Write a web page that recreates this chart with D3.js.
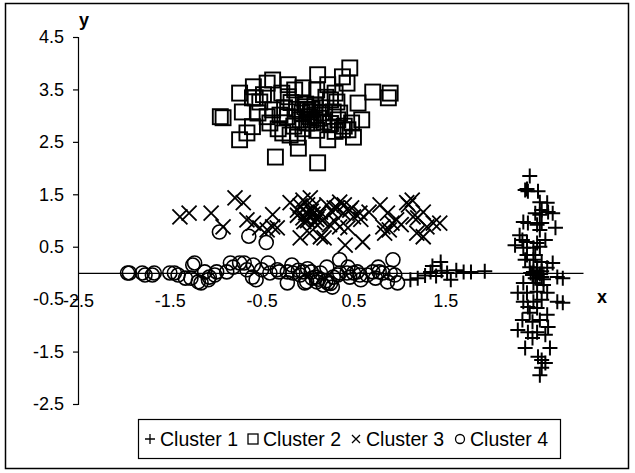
<!DOCTYPE html>
<html><head><meta charset="utf-8">
<script src="https://cdn.jsdelivr.net/npm/d3@7"></script>
<style>body{margin:0;background:#fff}svg{display:block}text{font-family:"Liberation Sans",Arial,sans-serif}</style>
</head><body><svg id="c" width="635" height="473"></svg>
<script>
const xTicks = [-2.5, -1.5, -0.5, 0.5, 1.5];
const yTicks = [4.5, 3.5, 2.5, 1.5, 0.5, -0.5, -1.5, -2.5];
const seriesNames = ["Cluster 1", "Cluster 2", "Cluster 3", "Cluster 4"];

const cluster1 = [
[1.12,-0.13],[1.20,-0.10],[1.28,-0.05],[1.34,0.02],[1.36,0.13],[1.40,-0.06],[1.45,0.21],[1.46,0.04],[1.52,0.0],[1.56,-0.13],[1.62,0.05],[1.70,0.02],[1.78,0.02],[1.93,0.03],
[2.42,1.85],[2.37,1.58],[2.40,1.56],[2.39,1.60],[2.51,1.56],[2.53,1.35],[2.61,1.34],[2.48,1.14],[2.55,1.20],[2.62,1.16],[2.67,1.14],[2.53,1.11],
[2.35,0.97],[2.40,0.95],[2.50,0.92],[2.55,0.95],[2.70,0.86],[2.53,0.82],[2.31,0.72],[2.34,0.63],[2.26,0.53],[2.39,0.59],[2.50,0.57],[2.59,0.63],
[2.35,0.48],[2.46,0.48],[2.53,0.50],[2.39,0.34],[2.48,0.34],[2.37,0.25],[2.46,0.25],[2.55,0.21],[2.67,0.19],[2.42,0.11],[2.50,0.10],[2.61,0.10],
[2.45,-0.04],[2.50,-0.04],[2.55,-0.08],[2.72,-0.08],[2.46,0.02],[2.50,0.05],[2.53,-0.02],[2.48,-0.10],[2.55,0.03],[2.43,0.0],[2.57,-0.12],[2.78,-0.10],
[2.35,-0.19],[2.46,-0.19],[2.57,-0.23],[2.29,-0.38],[2.39,-0.38],[2.50,-0.36],[2.61,-0.38],[2.35,-0.55],[2.46,-0.55],[2.55,-0.51],[2.72,-0.55],[2.78,-0.57],
[2.40,-0.65],[2.50,-0.67],[2.42,-0.76],[2.61,-0.80],[2.34,-0.90],[2.45,-0.93],[2.53,-0.90],[2.62,-1.03],[2.29,-1.09],[2.40,-1.13],[2.50,-1.13],[2.45,-1.24],
[2.59,-1.18],[2.37,-1.43],[2.64,-1.43],[2.51,-1.60],[2.55,-1.66],[2.59,-1.72],[2.55,-1.81],[2.53,-1.95]
];

const cluster2 = [
[-0.95,2.98],[-0.92,2.96],[-0.74,3.43],[-0.71,3.07],[-0.74,2.54],[-0.66,2.67],[-0.60,2.79],[-0.59,3.55],[-0.57,3.34],[-0.54,3.05],[-0.60,3.34],[-0.52,3.26],
[-0.44,3.62],[-0.38,3.68],[-0.21,3.59],[-0.05,3.53],[0.11,3.78],[0.22,3.59],[0.38,3.74],[0.46,3.91],[0.43,3.62],[0.55,3.24],[0.71,3.45],[0.90,3.43],[0.88,3.34],
[0.59,2.92],[-0.28,3.43],[-0.21,3.36],[-0.14,3.49],[-0.44,2.98],[-0.41,2.86],[-0.38,3.11],[-0.30,3.01],[-0.22,2.98],[-0.27,2.67],[-0.19,2.63],[-0.11,2.59],
[-0.10,2.38],[-0.35,2.21],[0.11,2.10],[-0.03,3.17],[0.03,3.07],[0.08,3.01],[0.14,3.15],[-0.01,2.86],[0.06,2.86],[0.22,2.54],[0.28,3.07],[0.33,2.92],
[0.38,2.73],[0.44,2.73],[0.50,2.59],[0.48,2.86],[0.10,3.49],[0.25,3.30],[0.32,3.26],[0.30,3.43],
[0.00,3.10],[0.05,3.12],[0.02,2.98],[-0.06,3.05],[0.08,3.20],[0.12,2.95],[-0.08,2.92],[0.15,3.05],[-0.02,3.22],[0.04,2.92],[-0.12,3.12],[0.18,2.88],
[-0.15,2.80],[0.25,2.85],[0.30,2.70],[-0.05,2.75],[0.10,2.72],[-0.25,3.15],[-0.32,2.75],[0.40,2.80],[0.35,3.05],[-0.18,3.25],[0.20,3.35],[-0.48,3.40]
];

const cluster3 = [
[-1.39,1.07],[-1.29,1.14],[-1.05,1.14],[-0.92,0.88],[-0.79,1.43],[-0.70,1.34],[-0.66,1.01],[-0.59,0.95],[-0.52,0.86],[-0.44,0.82],[-0.38,0.88],[-0.38,1.11],
[-0.33,0.86],[-0.19,1.34],[-0.11,1.20],[-0.05,1.39],[0.03,1.43],[0.06,1.26],[-0.11,1.10],[-0.05,1.05],[0.00,1.00],[0.03,1.07],[0.06,1.12],[0.10,1.02],
[0.14,1.16],[-0.02,1.15],[0.08,0.96],[0.12,1.08],[0.16,1.00],[-0.08,1.28],[0.00,1.30],[0.04,1.18],[-0.04,0.98],[0.01,1.12],
[0.21,1.30],[0.27,1.16],[0.32,1.24],[0.35,1.35],[0.39,1.14],[0.46,1.20],[0.50,1.07],[0.57,1.14],[0.35,0.88],[0.44,0.86],[0.41,0.53],[0.60,0.59],
[0.14,0.69],[-0.08,0.67],[0.02,0.76],[0.18,0.67],[0.79,1.30],[0.87,1.14],[0.82,0.88],[0.92,0.95],[0.97,1.01],[1.08,1.34],[1.14,1.39],[1.15,1.07],
[1.20,1.05],[1.26,1.16],[1.30,0.88],[1.37,0.95],[1.44,0.95],[1.19,0.76],[1.26,0.69],[0.84,0.76],[0.89,0.82],[0.67,1.16],[0.58,1.02],[0.29,1.24],
[0.40,1.30],[0.48,1.24],[0.24,0.92],[0.30,0.98],[1.02,0.92],[1.10,1.30]
];

const cluster4 = [
[-1.96,0.00],[-1.80,0.00],[-1.77,-0.04],[-1.69,-0.04],[-1.50,0.00],[-1.41,-0.04],[-1.33,-0.10],[-1.25,0.15],[-1.19,-0.17],[-1.12,0.02],[-1.08,-0.13],
[-1.01,-0.04],[-1.16,-0.19],[-1.27,-0.10],[-0.88,0.02],[-0.81,0.11],[-0.74,0.19],[-0.66,0.06],[-0.59,0.15],[-0.84,0.19],[-0.69,0.19],[-0.60,-0.08],
[-0.56,-0.13],[-0.50,0.06],[-0.43,0.19],[-0.41,0.00],[-0.33,0.06],[-0.31,0.02],[-0.22,0.02],[-0.16,0.00],[-0.17,0.15],[-0.22,-0.19],[-0.08,-0.04],
[-0.05,0.02],[-0.03,-0.19],[-0.01,-0.17],[0.04,0.02],[0.09,-0.08],[0.14,0.00],[0.21,0.11],[0.10,-0.17],[0.17,-0.23],[0.22,-0.19],[0.27,-0.27],
[0.28,-0.08],[0.33,-0.04],[0.35,0.25],[0.35,0.00],[0.43,0.00],[0.44,0.11],[0.46,-0.08],[0.50,0.00],[0.54,0.02],[0.57,-0.04],[0.58,-0.13],[0.65,-0.04],
[0.71,0.02],[0.74,-0.10],[0.77,0.11],[0.78,0.02],[0.82,0.00],[0.87,-0.17],[0.90,0.00],[0.93,0.25],[0.95,-0.04],[0.98,-0.19],[-0.96,0.78],[-0.64,0.70],
[-0.45,0.58],[-0.99,0.02],[-1.07,-0.08],[-1.45,0.00],[-1.67,0.00],[-1.94,0.00],[-1.23,0.19],[0.05,-0.10],[0.12,-0.12],[0.20,-0.15],[0.25,-0.20],
[-0.10,0.05],[0.00,0.08]
];

const svg = d3.select("#c");
const x = d3.scaleLinear().domain([-2.5, 3.0]).range([78, 583]);
const y = d3.scaleLinear().domain([-2.5, 4.5]).range([404, 37]);
const fmt = d => d.toFixed(1);

// outer frame
svg.append("rect").attr("x",5.5).attr("y",3.5).attr("width",623).attr("height",465)
  .attr("fill","none").attr("stroke","#000").attr("stroke-width",1.5);

// y axis
const yAxis = d3.axisLeft(y).tickValues(yTicks).tickSize(5).tickPadding(9).tickFormat(fmt);
const gy = svg.append("g").attr("transform",`translate(${x(-2.5)},0)`).call(yAxis);
gy.select(".domain").attr("stroke","#000").attr("stroke-width",1.2);
gy.selectAll("text").attr("font-size",18).attr("fill","#000");
gy.selectAll("line").attr("stroke","#000").attr("stroke-width",1.2);

// x axis at y=0
const xAxis = d3.axisBottom(x).tickValues(xTicks).tickSize(0).tickPadding(21).tickFormat(fmt);
const gx = svg.append("g").attr("transform",`translate(0,${y(0)})`).call(xAxis);
gx.select(".domain").attr("stroke","#000").attr("stroke-width",1.2);
gx.selectAll("text").attr("font-size",18).attr("fill","#000");

svg.append("text").attr("x",x(-2.5)+1).attr("y",26).attr("font-size",18).attr("font-weight","bold").text("y");
svg.append("text").attr("x",x(3.0)+14).attr("y",y(0)+30).attr("font-size",18).attr("font-weight","bold").text("x");

const g = svg.append("g").attr("fill","none").attr("stroke","#000");
function plus(s){return `M${-s},0H${s}M0,${-s}V${s}`;}
function cross(s){return `M${-s},${-s}L${s},${s}M${-s},${s}L${s},${-s}`;}

g.selectAll(".c1").data(cluster1).join("path")
  .attr("transform",d=>`translate(${x(d[0])},${y(d[1])})`).attr("d",plus(7.5)).attr("stroke-width",2);
g.selectAll(".c2").data(cluster2).join("rect")
  .attr("x",d=>x(d[0])-7.5).attr("y",d=>y(d[1])-7.5).attr("width",15).attr("height",15).attr("stroke-width",1.9);
g.selectAll(".c3").data(cluster3).join("path")
  .attr("transform",d=>`translate(${x(d[0])},${y(d[1])})`).attr("d",cross(7.5)).attr("stroke-width",1.8);
g.selectAll(".c4").data(cluster4).join("circle")
  .attr("cx",d=>x(d[0])).attr("cy",d=>y(d[1])).attr("r",7).attr("stroke-width",1.6);

// legend
const lg = svg.append("g");
lg.append("rect").attr("x",138.5).attr("y",419.5).attr("width",422).attr("height",39)
  .attr("fill","#fff").attr("stroke","#000").attr("stroke-width",1.2);
const entryX = [150, 253, 356, 460];
const ly = 439;
seriesNames.forEach((n,i)=>{
  const cx = entryX[i];
  const s = lg.append("g").attr("transform",`translate(${cx},${ly})`).attr("fill","none").attr("stroke","#000").attr("stroke-width",1.3);
  if(i===0) s.append("path").attr("d",plus(5));
  if(i===1) s.append("rect").attr("x",-5).attr("y",-5).attr("width",10).attr("height",10);
  if(i===2) s.append("path").attr("d",cross(4));
  if(i===3) s.append("circle").attr("r",4.5);
  lg.append("text").attr("x",entryX[i]+10).attr("y",ly+7).attr("font-size",19.5).text(n);
});
</script></body></html>
